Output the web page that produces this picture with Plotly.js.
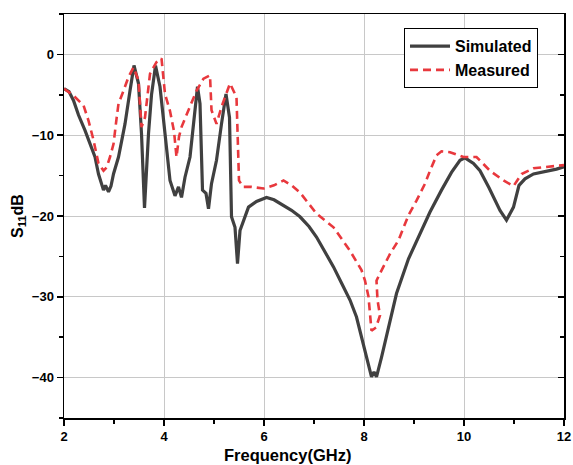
<!DOCTYPE html>
<html>
<head>
<meta charset="utf-8">
<script src="https://cdn.plot.ly/plotly-3.0.1.min.js"></script>
<style>html,body{margin:0;padding:0;background:#fff;}#chart{width:573px;height:465px;}</style>
</head>
<body>
<div id="chart"></div>
<script>
const simFreq = [2.0,2.1,2.19,2.29,2.42,2.52,2.62,2.69,2.75,2.79,2.83,2.89,2.94,2.99,3.09,3.15,3.22,3.32,3.40,3.49,3.55,3.61,3.69,3.75,3.79,3.83,3.92,4.02,4.12,4.22,4.29,4.35,4.42,4.52,4.59,4.67,4.72,4.77,4.84,4.89,4.95,5.05,5.15,5.24,5.31,5.35,5.42,5.47,5.52,5.6,5.69,5.85,6.05,6.2,6.39,6.55,6.72,6.9,7.05,7.2,7.39,7.55,7.72,7.85,7.95,8.05,8.1,8.15,8.2,8.25,8.35,8.5,8.65,8.89,9.12,9.32,9.55,9.75,9.92,10.02,10.19,10.32,10.5,10.72,10.85,10.99,11.1,11.22,11.39,11.55,11.72,11.85,12.0];
const simS11 = [-4.25,-4.6,-5.7,-7.5,-9.4,-11.1,-12.7,-14.8,-16.0,-16.8,-16.2,-17.0,-16.3,-14.8,-12.7,-11.0,-8.6,-4.5,-1.36,-3.6,-9.8,-19.0,-9.8,-5.0,-2.8,-1.4,-4.0,-9.8,-15.6,-17.5,-16.4,-17.7,-15.2,-12.7,-9.0,-4.0,-6.1,-16.8,-17.2,-19.1,-16.0,-13.1,-8.6,-4.9,-7.8,-20.1,-21.4,-25.9,-21.8,-20.5,-18.9,-18.2,-17.7,-18.0,-18.7,-19.3,-20.1,-21.3,-22.6,-24.2,-26.3,-28.3,-30.4,-32.5,-35.0,-37.5,-38.8,-39.9,-39.3,-39.9,-37.5,-33.5,-29.6,-25.3,-22.2,-19.5,-16.8,-14.6,-13.1,-12.8,-13.5,-14.4,-16.5,-19.3,-20.5,-18.9,-16.2,-15.4,-14.8,-14.6,-14.4,-14.2,-13.9];

const measFreq = [2.0,2.19,2.39,2.49,2.59,2.69,2.79,2.85,2.92,2.99,3.05,3.09,3.19,3.29,3.39,3.49,3.55,3.62,3.72,3.85,3.95,4.02,4.12,4.20,4.25,4.30,4.35,4.52,4.65,4.79,4.92,4.95,5.05,5.15,5.32,5.45,5.48,5.50,5.58,5.75,5.99,6.2,6.39,6.55,6.72,7.05,7.39,7.72,7.95,8.02,8.09,8.12,8.15,8.24,8.32,8.27,8.25,8.32,8.52,8.69,8.89,9.05,9.22,9.32,9.45,9.55,9.72,9.99,10.25,10.52,10.79,10.99,11.15,11.39,11.72,12.0];
const measS11 = [-4.25,-5.1,-6.3,-8.2,-10.6,-13.5,-14.4,-14.0,-12.7,-11.1,-8.0,-6.1,-4.5,-2.8,-1.6,-3.2,-9.0,-7.8,-2.4,-0.95,-0.5,-4.9,-7.0,-9.5,-12.7,-10.2,-9.0,-6.5,-4.5,-3.0,-2.6,-6.9,-8.6,-6.5,-3.6,-5.3,-11.9,-15.6,-16.4,-16.4,-16.6,-16.2,-15.6,-16.2,-17.1,-19.7,-21.4,-24.3,-26.7,-28.0,-30.0,-31.7,-34.2,-33.8,-32.3,-30.4,-28.0,-27.1,-24.7,-23.0,-19.9,-18.1,-16.0,-14.4,-12.5,-12.0,-12.1,-12.7,-12.7,-14.4,-15.6,-16.3,-14.8,-14.1,-13.9,-13.7];

const seriesNames = ["Simulated", "Measured"];
const xTickVals = [2,4,6,8,10,12];
const yTickVals = [0,-10,-20,-30,-40];

const font = {family: "Liberation Sans, Arial, sans-serif", color: "#000"};

const traces = [
  {x: simFreq, y: simS11, name: seriesNames[0], type: "scatter", mode: "lines",
   line: {color: "#404040", width: 3.2}},
  {x: measFreq, y: measS11, name: seriesNames[1], type: "scatter", mode: "lines",
   line: {color: "#e8383d", width: 2.6, dash: "8px,5px"}}
];

const layout = {
  width: 573, height: 465,
  margin: {l: 64, r: 9, t: 14, b: 47},
  paper_bgcolor: "#fff", plot_bgcolor: "#fff",
  font: font,
  showlegend: true,
  legend: {x: 0.68, y: 0.965, xanchor: "left", yanchor: "top",
    bgcolor: "#fff", bordercolor: "#000", borderwidth: 1,
    font: {family: font.family, size: 16, weight: "bold", color: "#000"},
    itemwidth: 40, tracegroupgap: 0},
  xaxis: {range: [2, 12], tickvals: xTickVals, ticks: "outside", ticklen: 6, tickwidth: 1.5,
    tickcolor: "#000", showline: true, linecolor: "#000", linewidth: 1.5, mirror: true,
    showgrid: true, gridcolor: "#c8c8c8", gridwidth: 1, zeroline: false,
    tickfont: {family: font.family, size: 13, weight: "bold", color: "#000"},
    minor: {dtick: 1, tick0: 2, ticks: "outside", ticklen: 4, tickwidth: 1.5, tickcolor: "#000", showgrid: false}},
  yaxis: {range: [-45, 5], tickvals: yTickVals, ticks: "outside", ticklen: 6, tickwidth: 1.5,
    tickcolor: "#000", showline: true, linecolor: "#000", linewidth: 1.5, mirror: true,
    showgrid: true, gridcolor: "#c8c8c8", gridwidth: 1, zeroline: false,
    tickfont: {family: font.family, size: 13, weight: "bold", color: "#000"},
    minor: {dtick: 5, tick0: -45, ticks: "outside", ticklen: 4, tickwidth: 1.5, tickcolor: "#000", showgrid: false}},
  yaxis2: {range: [-45, 5], overlaying: "y", side: "right", anchor: "x",
    tickvals: yTickVals, ticks: "inside", ticklen: 6, tickwidth: 1.5, tickcolor: "#000",
    showticklabels: false, showgrid: false, zeroline: false, showline: false,
    minor: {dtick: 5, tick0: -45, ticks: "inside", ticklen: 4, tickwidth: 1.5, tickcolor: "#000"}},
  annotations: [
    {text: "Frequency(GHz)", xref: "paper", yref: "paper", x: 0.447, y: -0.066,
     xanchor: "center", yanchor: "top", showarrow: false, borderpad: 0,
     font: {family: font.family, size: 16.5, weight: "bold", color: "#000"}},
    {text: "S<sub>11</sub>dB", xref: "paper", yref: "paper", x: -0.092, y: 0.5,
     xanchor: "center", yanchor: "middle", textangle: -90, showarrow: false,
     font: {family: font.family, size: 16, weight: "bold", color: "#000"}}
  ]
};

traces.push({x: [2], y: [0], yaxis: "y2", type: "scatter", mode: "markers",
  marker: {opacity: 0}, showlegend: false, hoverinfo: "skip"});

Plotly.newPlot("chart", traces, layout, {displayModeBar: false, staticPlot: true});
</script>
</body>
</html>
